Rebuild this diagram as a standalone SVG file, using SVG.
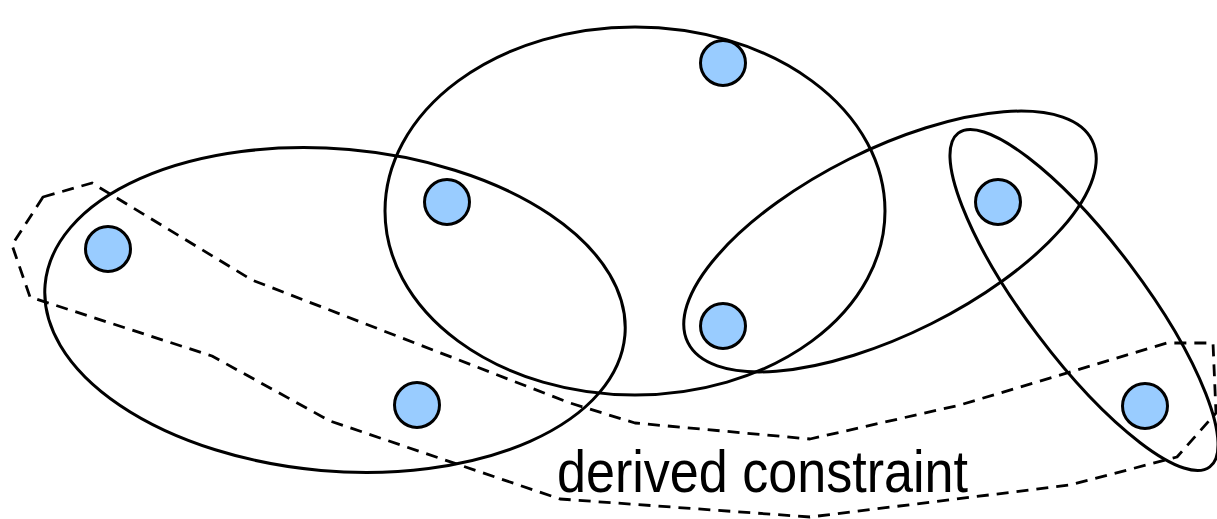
<svg xmlns="http://www.w3.org/2000/svg" width="1217" height="519" viewBox="0 0 1217 519">
<style>
.set{fill:none;stroke:#000;stroke-width:3}
.derived{fill:none;stroke:#000;stroke-width:2.8;stroke-dasharray:12 8;stroke-linejoin:round}
.node{fill:#99ccff;stroke:#000;stroke-width:3}
.label{font-family:"Liberation Sans",Arial,sans-serif;font-size:59px;fill:#000}
</style>
<rect width="1217" height="519" fill="#fff"/>
<g id="connectors">
<path id="derived-constraint" class="derived" d="M43,197 L92,183 L252,280 L570,403 L635,423 L810,439 L960,405 L1167,343 L1213,343 L1216,413 L1177,457 L1070,485 L810,517 L560,499 L330,421 L212,356 L30,297 L12,245 Z"/>
<ellipse id="set-left" class="set" cx="335" cy="310" rx="291" ry="161" transform="rotate(5 335 310)"/>
<ellipse id="set-center" class="set" cx="635" cy="211" rx="250" ry="184"/>
<ellipse id="set-tilted" class="set" cx="890" cy="241.5" rx="226" ry="92" transform="rotate(-26.6 890 241.5)"/>
<ellipse id="set-right" class="set" cx="1084" cy="300" rx="209" ry="58" transform="rotate(53 1084 300)"/>
</g>
<g id="n1"><circle class="node" cx="108" cy="249" r="22.5"/></g>
<g id="n2"><circle class="node" cx="447" cy="202" r="22.5"/></g>
<g id="n3"><circle class="node" cx="723" cy="63" r="22.5"/></g>
<g id="n4"><circle class="node" cx="998" cy="202" r="22.5"/></g>
<g id="n5"><circle class="node" cx="723" cy="326" r="22.5"/></g>
<g id="n6"><circle class="node" cx="417" cy="405" r="22.5"/></g>
<g id="n7"><circle class="node" cx="1145" cy="406" r="22.5"/></g>
<g id="label"><text class="label" x="557" y="492" textLength="411" lengthAdjust="spacingAndGlyphs">derived constraint</text></g>
</svg>
